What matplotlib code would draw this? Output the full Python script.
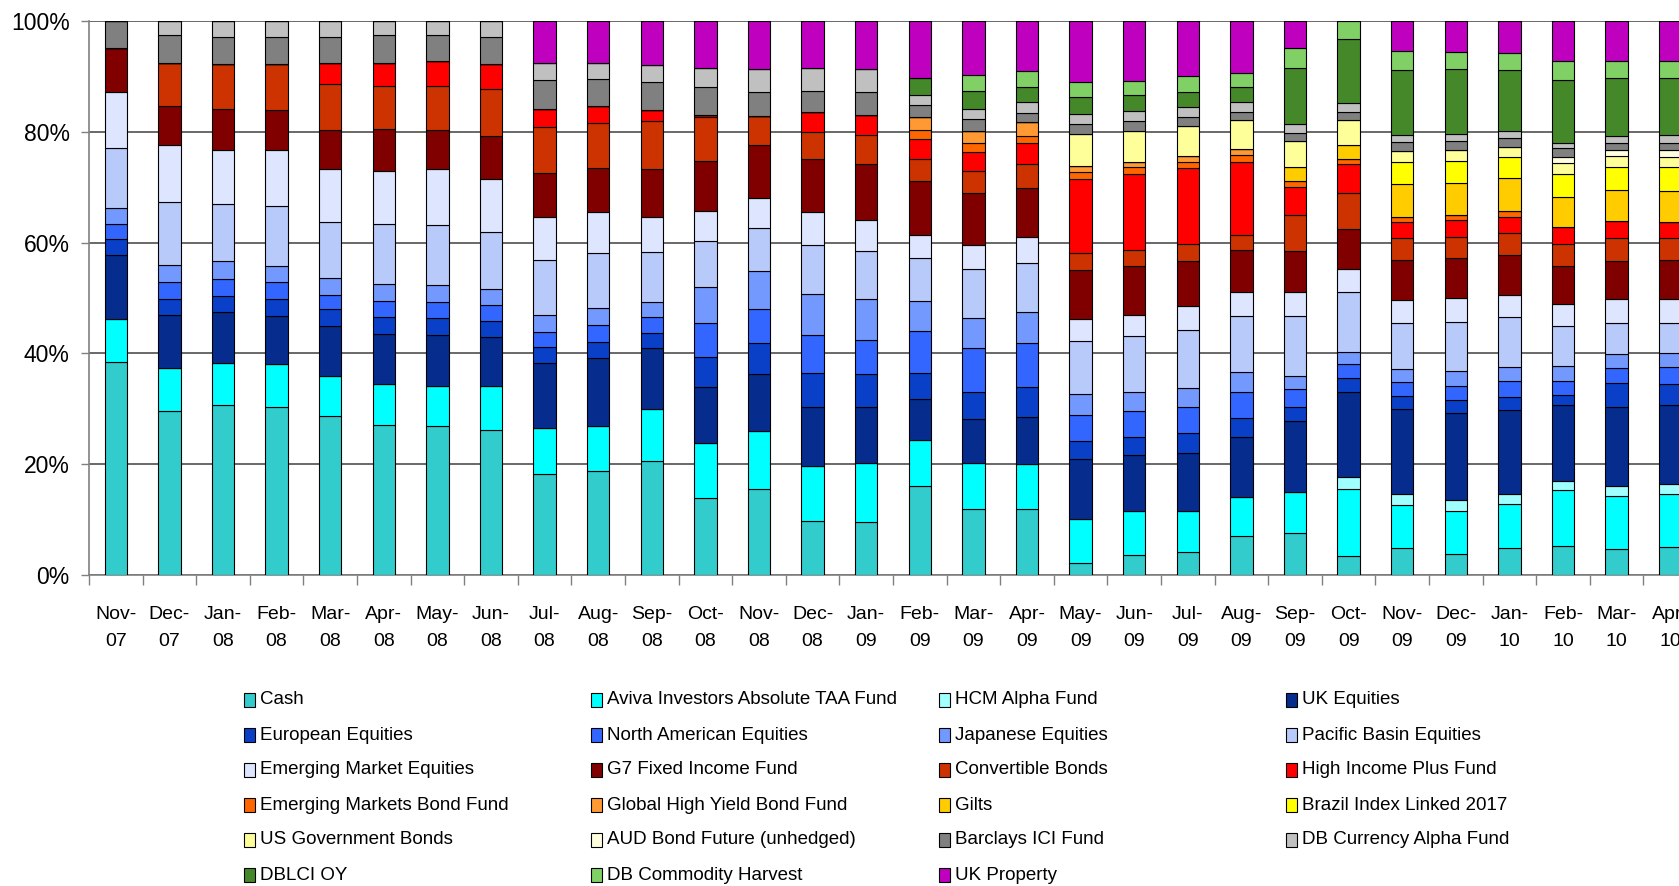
import numpy as np
import matplotlib.pyplot as plt
from matplotlib.patches import Rectangle

plt.rcParams['font.family'] = ['Liberation Sans', 'DejaVu Sans']

months = ['Nov-07', 'Dec-07', 'Jan-08', 'Feb-08', 'Mar-08', 'Apr-08', 'May-08', 'Jun-08',
          'Jul-08', 'Aug-08', 'Sep-08', 'Oct-08', 'Nov-08', 'Dec-08', 'Jan-09', 'Feb-09',
          'Mar-09', 'Apr-09', 'May-09', 'Jun-09', 'Jul-09', 'Aug-09', 'Sep-09', 'Oct-09',
          'Nov-09', 'Dec-09', 'Jan-10', 'Feb-10', 'Mar-10', 'Apr-10']

# portfolio weights in % per month, stacked bottom to top in this order
cash = [38.5, 29.6, 30.6, 30.3, 28.7, 27.1, 26.9, 26.2, 18.2, 18.7, 20.5, 13.9, 15.6, 9.8, 9.5,
        16.1, 12.0, 12.0, 2.2, 3.6, 4.2, 7.1, 7.6, 3.5, 4.9, 3.8, 4.8, 5.2, 4.7, 5.1]
aviva_taa = [7.7, 7.8, 7.7, 7.7, 7.2, 7.3, 7.3, 8.0, 8.3, 8.2, 9.4, 9.9, 10.4, 9.9, 10.8,
             8.2, 8.3, 8.0, 7.9, 7.9, 7.4, 6.9, 7.4, 12.1, 7.7, 7.8, 8.1, 10.1, 9.6, 9.5]
hcm_alpha = [0] * 23 + [2.0, 2.0, 1.9, 1.7, 1.7, 1.8, 1.8]
uk_eq = [11.5, 9.6, 9.1, 8.8, 9.0, 9.1, 9.1, 8.8, 11.8, 12.2, 11.0, 10.1, 10.2, 10.6, 10.1,
         7.5, 7.9, 8.5, 10.8, 10.1, 10.5, 10.9, 12.8, 15.4, 15.3, 15.7, 15.1, 13.6, 14.3, 14.2]
europe_eq = [2.9, 2.9, 3.0, 3.1, 3.1, 3.1, 3.1, 2.9, 2.9, 3.0, 2.7, 5.4, 5.6, 6.2, 5.8,
             4.7, 4.8, 5.4, 3.3, 3.3, 3.5, 3.4, 2.6, 2.5, 2.4, 2.4, 2.5, 1.9, 4.2, 3.8]
namerica_eq = [2.7, 3.0, 3.1, 2.9, 2.6, 2.8, 2.8, 2.8, 2.6, 3.0, 2.9, 6.2, 6.2, 6.8, 6.3,
               7.5, 7.9, 7.9, 4.7, 4.7, 4.7, 4.7, 3.2, 2.5, 2.5, 2.6, 2.8, 2.6, 2.8, 3.1]
japan_eq = [2.9, 3.1, 3.1, 3.0, 3.1, 3.1, 3.1, 3.0, 3.2, 3.1, 2.7, 6.5, 6.8, 7.5, 7.4,
            5.5, 5.5, 5.7, 3.7, 3.4, 3.5, 3.6, 2.3, 2.3, 2.3, 2.6, 2.5, 2.6, 2.5, 2.6]
pacific_eq = [10.9, 11.3, 10.4, 10.8, 10.0, 10.8, 10.8, 10.3, 9.9, 9.9, 9.1, 8.2, 7.8, 8.8, 8.6,
              7.8, 8.8, 8.9, 9.7, 10.1, 10.5, 10.2, 10.9, 10.8, 8.4, 8.9, 9.1, 7.2, 5.5, 5.3]
em_eq = [10.0, 10.4, 9.7, 10.1, 9.5, 9.7, 10.1, 9.5, 7.7, 7.5, 6.3, 5.5, 5.5, 6.0, 5.6,
         4.1, 4.3, 4.7, 3.9, 3.8, 4.3, 4.3, 4.2, 4.1, 4.1, 4.3, 4.0, 4.0, 4.5, 4.5]
g7_fixed = [8.1, 7.0, 7.4, 7.3, 7.1, 7.5, 7.1, 7.8, 7.9, 7.8, 8.6, 9.1, 9.5, 9.5, 10.0,
            9.7, 9.4, 8.8, 8.9, 8.8, 8.1, 7.5, 7.5, 7.3, 7.3, 7.3, 7.2, 6.9, 6.8, 6.9]
convertibles = [0, 7.8, 8.1, 8.2, 8.3, 7.8, 8.0, 8.5, 8.3, 8.1, 8.7, 7.8, 5.3, 4.9, 5.4,
                4.0, 4.1, 4.2, 3.1, 3.0, 3.0, 2.8, 6.5, 6.5, 3.9, 3.8, 3.9, 3.9, 4.2, 4.1]
high_income = [0, 0, 0, 0, 3.8, 4.2, 4.4, 4.4, 3.4, 3.2, 2.0, 0.5, 0, 3.5, 3.6,
               3.6, 3.3, 3.8, 13.3, 13.7, 13.7, 13.1, 5.1, 5.1, 3.0, 2.9, 3.0, 3.1, 3.0, 2.9]
em_bond = [0] * 15 + [1.6, 1.6, 1.4, 1.2, 1.2, 1.1, 1.4, 1.0, 1.0, 0.9, 1.0, 1.0, 0, 0, 0]
global_hy = [0] * 15 + [2.4, 2.3, 2.4, 1.1, 1.0, 1.1, 1.0, 0, 0, 0, 0, 0, 0, 0, 0]
gilts = [0] * 22 + [2.5, 2.5, 5.9, 5.8, 5.9, 5.5, 5.6, 5.6]
brazil_il = [0] * 24 + [3.9, 3.9, 3.9, 4.1, 4.2, 4.2]
us_govt = [0] * 18 + [5.8, 5.5, 5.4, 5.2, 4.8, 4.6, 2.0, 2.0, 1.8, 2.0, 1.9, 1.8]
aud_future = [0] * 27 + [1.1, 1.1, 1.3]
barclays_ici = [4.8, 4.9, 4.9, 5.0, 4.8, 4.9, 4.7, 5.0, 5.2, 4.9, 5.1, 5.0, 4.2, 3.9, 4.0,
                2.1, 2.1, 1.7, 1.8, 1.8, 1.7, 1.5, 1.4, 1.3, 1.6, 1.6, 1.6, 1.5, 1.3, 1.3]
db_currency = [0, 2.6, 2.9, 2.8, 2.8, 2.6, 2.6, 2.8, 3.0, 2.9, 3.0, 3.4, 4.2, 4.1, 4.2,
               1.9, 1.9, 1.9, 1.8, 1.9, 1.8, 1.7, 1.6, 1.7, 1.4, 1.3, 1.2, 1.0, 1.2, 1.4]
dblci_oy = [0] * 15 + [3.0, 3.2, 2.8, 3.1, 2.8, 2.6, 2.7, 10.1, 11.5, 11.7, 11.7, 11.1, 11.4, 10.5, 10.3]
db_harvest = [0] * 16 + [2.9, 2.8, 2.7, 2.6, 2.9, 2.7, 3.7, 3.3, 3.4, 3.1, 3.1, 3.3, 3.1, 3.1]
uk_property = [0] * 8 + [7.6, 7.5, 8.0, 8.5, 8.7, 8.5, 8.7, 10.3, 9.7, 9.1, 11.0, 10.8, 10.0, 9.3,
                         4.8, 0, 5.4, 5.6, 5.7, 7.3, 7.2, 7.2]

series = [
    ('Cash', cash, '#33CCCC'),
    ('Aviva Investors Absolute TAA Fund', aviva_taa, '#00FFFF'),
    ('HCM Alpha Fund', hcm_alpha, '#A0FFFF'),
    ('UK Equities', uk_eq, '#062C8E'),
    ('European Equities', europe_eq, '#0A40C8'),
    ('North American Equities', namerica_eq, '#3366FF'),
    ('Japanese Equities', japan_eq, '#7399FF'),
    ('Pacific Basin Equities', pacific_eq, '#B8CAFA'),
    ('Emerging Market Equities', em_eq, '#DDE5FF'),
    ('G7 Fixed Income Fund', g7_fixed, '#800000'),
    ('Convertible Bonds', convertibles, '#CC3300'),
    ('High Income Plus Fund', high_income, '#FF0000'),
    ('Emerging Markets Bond Fund', em_bond, '#FF6600'),
    ('Global High Yield Bond Fund', global_hy, '#FF9933'),
    ('Gilts', gilts, '#FFCC00'),
    ('Brazil Index Linked 2017', brazil_il, '#FFFF00'),
    ('US Government Bonds', us_govt, '#FFFF99'),
    ('AUD Bond Future (unhedged)', aud_future, '#FFFFE0'),
    ('Barclays ICI Fund', barclays_ici, '#808080'),
    ('DB Currency Alpha Fund', db_currency, '#C0C0C0'),
    ('DBLCI OY', dblci_oy, '#44882A'),
    ('DB Commodity Harvest', db_harvest, '#80D066'),
    ('UK Property', uk_property, '#BF00BF'),
]

W, H = 1679, 886
fig = plt.figure(figsize=(W / 100, H / 100), dpi=100)
ax = fig.add_axes([89 / W, (H - 575) / H, 1608 / W, 554 / H])

x = np.arange(len(months))
bottom = np.zeros(len(months))
for name, vals, col in series:
    v = np.array(vals, dtype=float)
    ax.bar(x, v, bottom=bottom, width=0.42, color=col, edgecolor='black', linewidth=0.8, zorder=3)
    bottom += v

ax.set_xlim(-0.5, len(months) - 0.5)
ax.set_ylim(0, 100)
ax.set_yticks([0, 20, 40, 60, 80, 100])
ax.set_yticklabels(['0%', '20%', '40%', '60%', '80%', '100%'], fontsize=16.5)
ax.grid(axis='y', color='#404040', linewidth=1.1, zorder=0)
ax.set_axisbelow(True)

ax.set_xticks(x)
ax.set_xticklabels([m.replace('-', '-\n') for m in months], fontsize=14, linespacing=1.8)
ax.set_xticks(np.arange(len(months) + 1) - 0.5, minor=True)
ax.tick_params(axis='x', which='major', length=0, pad=22)
ax.tick_params(axis='x', which='minor', length=7, width=1, color='#808080', direction='out')
ax.tick_params(axis='y', length=6, width=1, color='#808080', pad=8)

for s in ['top', 'right']:
    ax.spines[s].set_visible(False)
for s in ['left', 'bottom']:
    ax.spines[s].set_color('#808080')
    ax.spines[s].set_linewidth(1.2)

# legend laid out row by row, four columns
for i, (name, vals, col) in enumerate(series):
    r, c = divmod(i, 4)
    x0 = 244 + c * 347.3
    yc = 700 + r * 35
    fig.patches.append(Rectangle((x0 / W, (H - yc - 7) / H), 11 / W, 14 / H,
                                 transform=fig.transFigure, facecolor=col,
                                 edgecolor='black', linewidth=0.8))
    fig.text((x0 + 16) / W, (H - yc) / H, name, fontsize=13.5, va='center', ha='left')

fig.savefig('out.png', dpi=100)
